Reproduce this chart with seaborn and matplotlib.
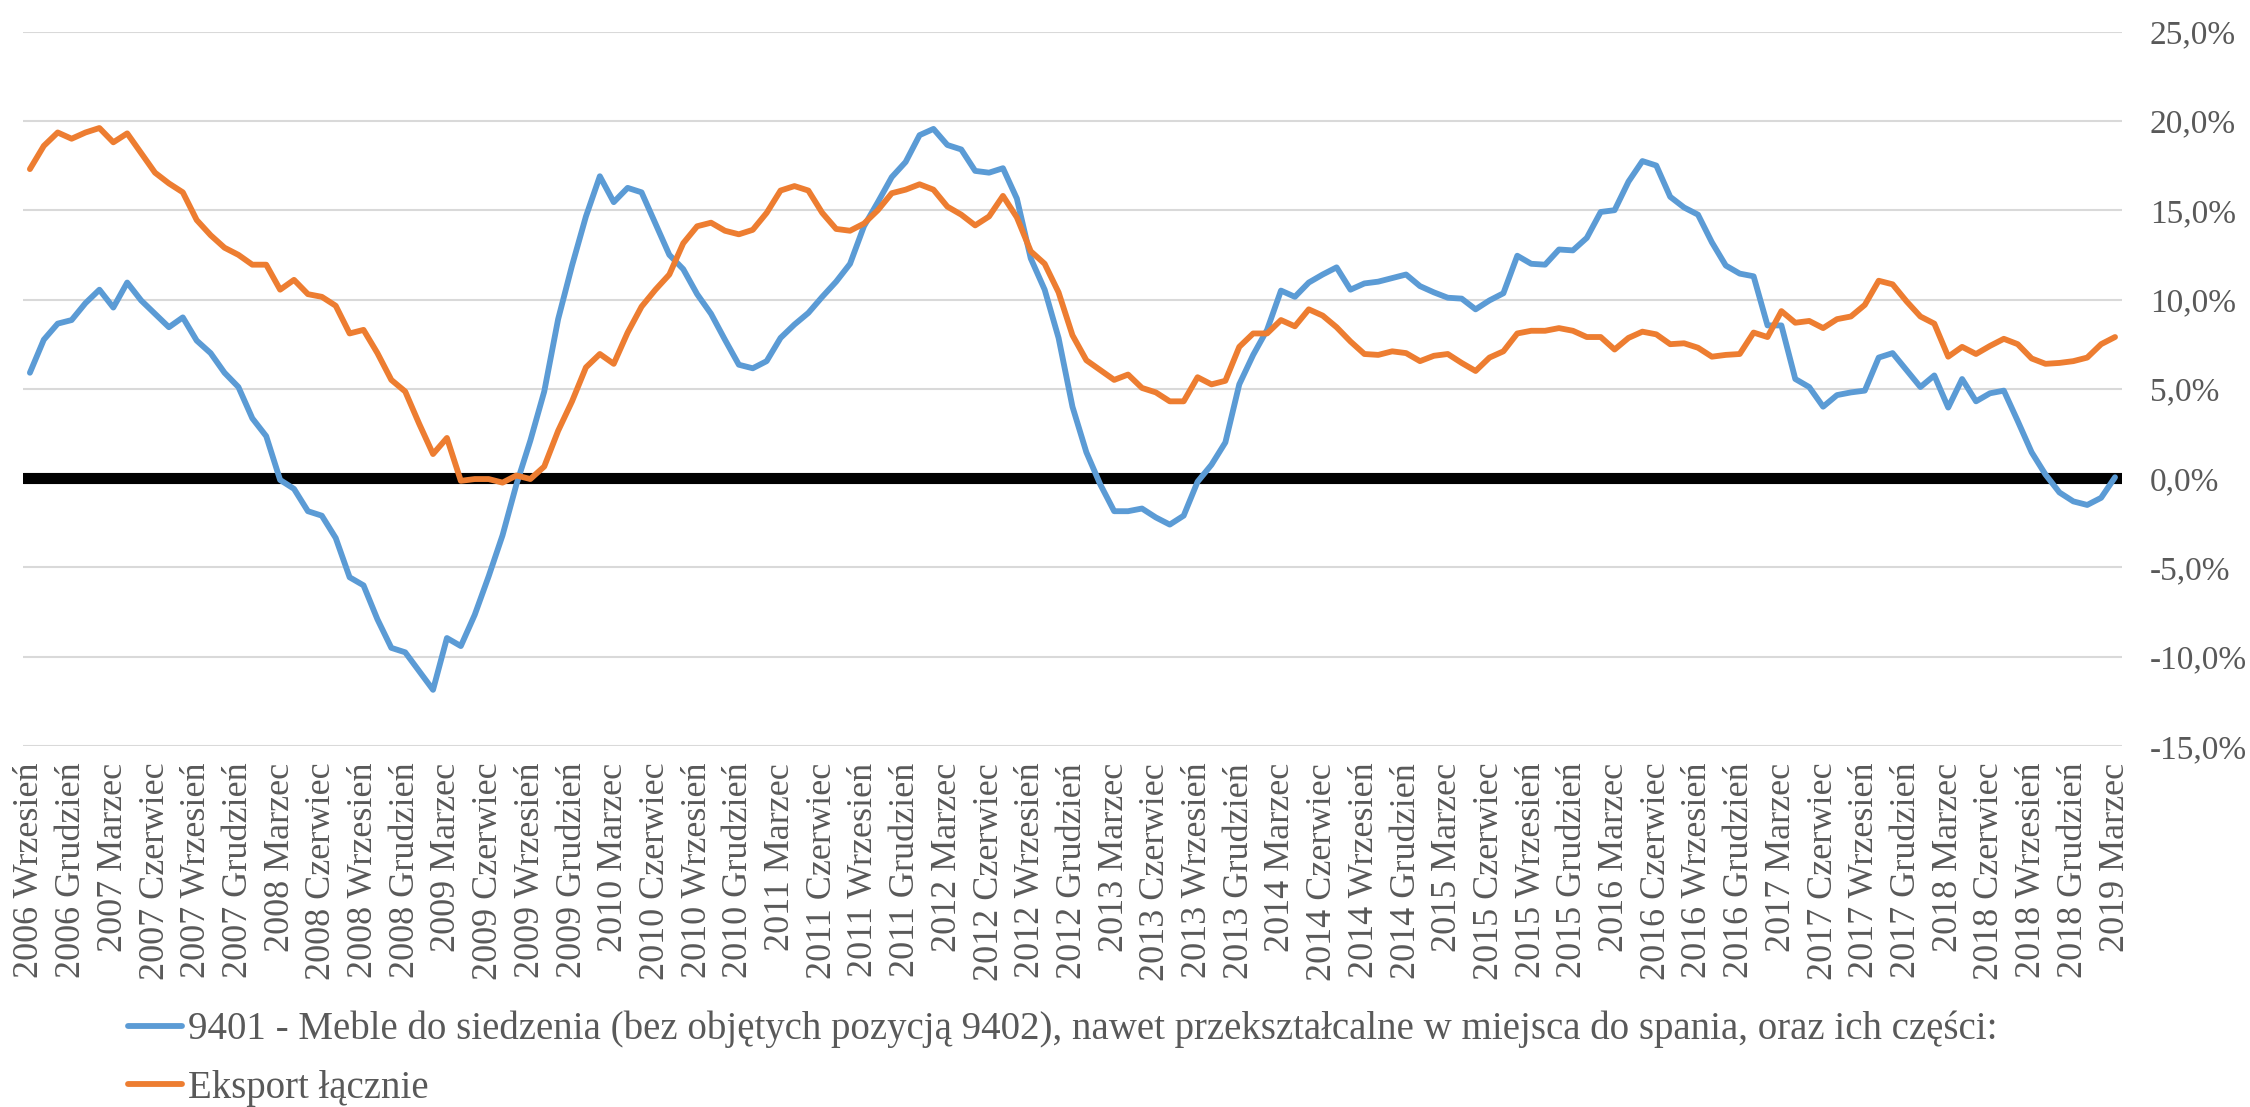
import pandas as pd
import matplotlib
matplotlib.use("Agg")
import matplotlib.pyplot as plt
import seaborn as sns

# Monthly y/y dynamics, 2006-09 .. 2019-03 (values in %)
start_year = 2006
quarter_months = ["Wrzesień", "Grudzień", "Marzec", "Czerwiec"]

series_names = [
    "9401 - Meble do siedzenia (bez objętych pozycją 9402), nawet przekształcalne w miejsca do spania, oraz ich części:",
    "Eksport łącznie",
]

meble_9401 = [
    5.9, 7.75, 8.65, 8.85, 9.8, 10.55, 9.55, 10.95, 9.95, 9.2,
    8.45, 9.0, 7.7, 7.0, 5.9, 5.1, 3.35, 2.35, -0.1, -0.6,
    -1.85, -2.1, -3.35, -5.55, -6.0, -7.9, -9.5, -9.75, -10.8, -11.85,
    -8.95, -9.4, -7.65, -5.5, -3.2, -0.35, 2.1, 4.85, 8.9, 11.9,
    14.65, 16.9, 15.45, 16.25, 16.0, 14.25, 12.5, 11.7, 10.3, 9.2,
    7.75, 6.35, 6.15, 6.55, 7.85, 8.6, 9.25, 10.15, 11.0, 12.0,
    14.1, 15.45, 16.85, 17.7, 19.2, 19.55, 18.65, 18.4, 17.2, 17.1,
    17.35, 15.65, 12.3, 10.55, 7.85, 4.0, 1.45, -0.35, -1.85, -1.85,
    -1.7, -2.2, -2.6, -2.1, -0.2, 0.75, 2.0, 5.25, 6.9, 8.3,
    10.5, 10.15, 10.95, 11.4, 11.8, 10.55, 10.9, 11.0, 11.2, 11.4,
    10.75, 10.4, 10.1, 10.05, 9.45, 9.95, 10.35, 12.45, 12.0, 11.95,
    12.8, 12.75, 13.45, 14.9, 15.0, 16.6, 17.75, 17.5, 15.75, 15.15,
    14.75, 13.2, 11.9, 11.45, 11.3, 8.55, 8.55, 5.55, 5.1, 4.0,
    4.65, 4.8, 4.9, 6.75, 7.0, 6.05, 5.1, 5.75, 3.95, 5.55,
    4.3, 4.75, 4.9, 3.2, 1.45, 0.2, -0.8, -1.3, -1.5, -1.1,
    0.05,
]

eksport_lacznie = [
    17.3, 18.6, 19.35, 19.0, 19.35, 19.6, 18.8, 19.3, 18.2, 17.1,
    16.5, 16.0, 14.45, 13.6, 12.9, 12.5, 11.95, 11.95, 10.55, 11.1,
    10.3, 10.15, 9.65, 8.1, 8.3, 7.0, 5.5, 4.85, 3.05, 1.35,
    2.25, -0.15, -0.05, -0.05, -0.25, 0.15, -0.05, 0.65, 2.65, 4.3,
    6.2, 6.95, 6.4, 8.15, 9.6, 10.55, 11.4, 13.15, 14.1, 14.3,
    13.85, 13.65, 13.9, 14.85, 16.1, 16.35, 16.1, 14.85, 13.95, 13.85,
    14.25, 15.0, 15.95, 16.15, 16.45, 16.15, 15.2, 14.75, 14.15, 14.65,
    15.8, 14.6, 12.7, 12.0, 10.4, 8.0, 6.6, 6.05, 5.5, 5.8,
    5.05, 4.8, 4.3, 4.3, 5.65, 5.25, 5.45, 7.35, 8.1, 8.1,
    8.85, 8.5, 9.45, 9.1, 8.45, 7.65, 6.95, 6.9, 7.1, 7.0,
    6.55, 6.85, 6.95, 6.45, 6.0, 6.75, 7.1, 8.1, 8.25, 8.25,
    8.4, 8.25, 7.9, 7.9, 7.2, 7.85, 8.2, 8.05, 7.5, 7.55,
    7.3, 6.8, 6.9, 6.95, 8.15, 7.9, 9.35, 8.7, 8.8, 8.4,
    8.9, 9.05, 9.7, 11.05, 10.85, 9.9, 9.05, 8.65, 6.8, 7.35,
    6.95, 7.4, 7.8, 7.5, 6.7, 6.4, 6.45, 6.55, 6.75, 7.5,
    7.9,
]

y_ticks = [-15, -10, -5, 0, 5, 10, 15, 20, 25]

# labels every third month, starting in September 2006
n = len(meble_9401)
tick_pos = list(range(0, n, 3))
tick_labels = []
for k, pos in enumerate(tick_pos):
    year = start_year + (pos + 8) // 12
    tick_labels.append(f"{year} {quarter_months[k % 4]}")

df = pd.DataFrame({
    "idx": list(range(n)) * 2,
    "value": meble_9401 + eksport_lacznie,
    "series": [series_names[0]] * n + [series_names[1]] * n,
})

sns.set_theme(style="white")
plt.rcParams["font.family"] = ["Liberation Serif", "DejaVu Serif"]
text_color = "#595959"

fig = plt.figure(figsize=(22.5, 11.07), dpi=100)
ax = fig.add_axes([0.0102, 0.326, 0.9329, 0.6455])

sns.lineplot(
    data=df, x="idx", y="value", hue="series", hue_order=series_names,
    palette=["#5B9BD5", "#ED7D31"], linewidth=4.2, sort=False, ax=ax,
    legend=True, zorder=3,
)

# thick zero axis line like the original
ax.axhline(0, color="black", linewidth=8, zorder=2)

ax.set_xlim(-0.5, n - 0.5)
ax.set_ylim(-15, 25)
ax.set_yticks(y_ticks)
ax.set_yticklabels([f"{v:.1f}%".replace(".", ",") for v in y_ticks])
ax.yaxis.tick_right()
ax.grid(axis="y", color="#D9D9D9", linewidth=1.5, zorder=0)
ax.set_xticks(tick_pos)
ax.set_xticklabels(tick_labels, rotation=90)
ax.tick_params(axis="x", length=0, pad=12, labelsize=26, colors=text_color)
ax.tick_params(axis="y", length=0, pad=20, labelsize=24, colors=text_color)
ax.set_xlabel("")
ax.set_ylabel("")
for s in ax.spines.values():
    s.set_visible(False)

handles, labels = ax.get_legend_handles_labels()
ax.get_legend().remove()
leg = fig.legend(
    handles, labels, loc="upper left", bbox_to_anchor=(0.0569, 0.087),
    frameon=False, fontsize=28, handlelength=1.4, handletextpad=0.15,
    labelspacing=0.55, borderpad=0, borderaxespad=0, labelcolor=text_color,
)

fig.savefig("out.png", dpi=100)
